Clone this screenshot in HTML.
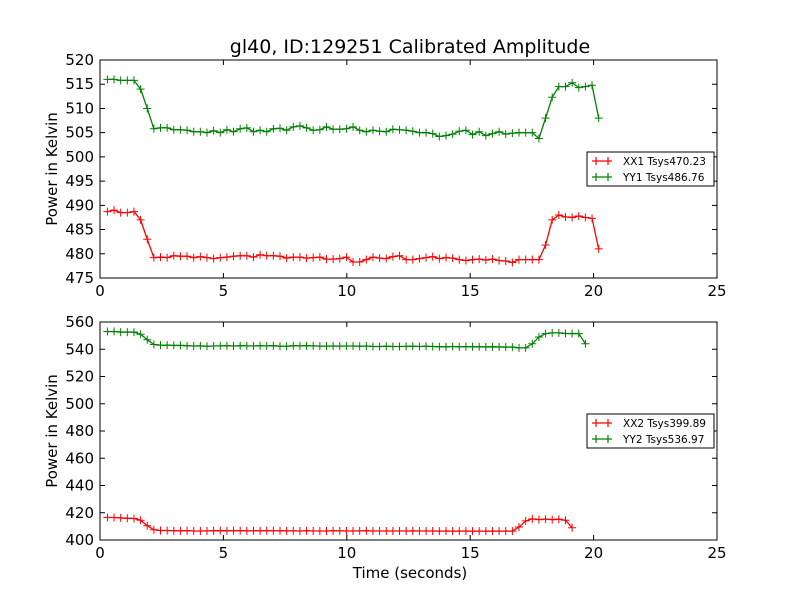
<!DOCTYPE html>
<html><head><meta charset="utf-8"><style>
body{margin:0;background:#fff;}
svg text{font-family:"DejaVu Sans","Liberation Sans",sans-serif;}
</style></head><body>
<svg id="c" width="800" height="600" xmlns="http://www.w3.org/2000/svg">
<rect width="800" height="600" fill="#fff"/>
</svg>
<script>
const xMin=0.3, xStep=0.269;
const yy1=[516,516,515.8,515.8,515.8,514,510,505.8,
506,506,505.6,505.6,505.5,505.2,505.2,505,505.4,505,
505.6,505.2,505.8,506,505.2,505.5,505.2,505.8,505.9,505.5,
506.2,506.4,506,505.5,505.6,506.2,505.7,505.7,505.8,506.2,
505.5,505.2,505.5,505.3,505.2,505.7,505.6,505.5,505.3,505,
505,504.8,504.2,504.4,504.7,505.3,505.5,504.6,505.2,504.4,
504.8,505.2,504.7,504.9,505,505,
505,503.8,508,512.3,514.5,514.5,515.3,514.3,514.5,514.8,508];
const xx1=[488.7,489,488.5,488.5,488.7,487,483,479.2,
479.3,479.2,479.6,479.5,479.5,479.2,479.4,479.2,479,479.2,
479.3,479.5,479.6,479.6,479.3,479.8,479.6,479.6,479.5,479.1,
479.3,479.3,479.1,479.2,479.3,478.9,478.9,479.0,479.3,478.3,
478.3,478.8,479.3,479.1,479.0,479.4,479.6,478.8,478.8,479.0,
479.2,479.4,479.0,479.2,479.1,478.8,478.6,478.8,478.9,478.7,
478.9,478.6,478.5,478.2,478.8,478.8,
478.8,478.8,481.8,487,488,487.6,487.5,487.8,487.5,487.3,481];
const yy2=[553,553,552.6,552.6,552.6,551,547,543.5,
543,543,542.8,542.8,542.6,542.4,542.5,542.2,542.4,542.5,
542.6,542.4,542.6,542.5,542.4,542.6,542.5,542.6,542.2,542.2,
542.6,542.5,542.6,542.5,542.3,542.3,542.4,542.3,542.4,542.4,
542.2,542.4,542.0,542.0,542.2,542.0,542.0,542.1,542.2,542.0,
542.2,542.0,541.8,541.8,542.0,541.8,541.9,541.8,541.8,541.7,
541.8,541.7,541.6,541.6,
541,541,544,549,551.5,552,552,551.6,551.5,551.5,544];
const xx2=[416.5,416.5,416.2,416,415.8,414.5,410.5,407.5,
407,407,406.8,406.8,406.9,406.6,406.6,406.7,406.8,406.9,
406.8,406.8,406.9,406.7,406.8,406.8,406.9,406.8,406.8,406.7,
406.7,406.6,406.8,406.6,406.6,406.6,406.8,406.7,406.6,406.6,
406.7,406.8,406.6,406.6,406.6,406.6,406.6,406.6,406.7,406.6,
406.6,406.6,406.5,406.6,406.5,406.5,406.6,406.5,
406.5,406.5,406.5,406.5,406.5,406.5,409.5,414,415.5,415,415.3,415,415.2,414.5,409];
const xTicks=[0,5,10,15,20,25];
const y1Ticks=[475,480,485,490,495,500,505,510,515,520];
const y2Ticks=[400,420,440,460,480,500,520,540,560];
const legend1=["XX1 Tsys470.23","YY1 Tsys486.76"];
const legend2=["XX2 Tsys399.89","YY2 Tsys536.97"];

const NS="http://www.w3.org/2000/svg";
const svg=document.getElementById('c');
function mk(t,a,p){const e=document.createElementNS(NS,t);for(const k in a)e.setAttribute(k,a[k]);(p||svg).appendChild(e);return e;}
const X0=100,X1=717;
function sx(v){return X0+(v-0)/(25-0)*(X1-X0);}
function panel(top,bot,ymin,ymax,yTicks,series,legend,legTop,idx,showXTitle){
  const sy=v=>bot-(v-ymin)/(ymax-ymin)*(bot-top);
  const g=mk('g',{});
  
  
  series.forEach((s,si)=>{
    const pts=s.d.map((v,i)=>[sx(xMin+xStep*i),sy(v)]);
    const pl=mk('polyline',{points:pts.map(p=>p.join(',')).join(' '),fill:'none',stroke:s.c,'stroke-width':1.3},g);
    
    
    pts.forEach(p=>{
      const m=mk('path',{d:`M${p[0]-4},${p[1]}h8M${p[0]},${p[1]-4}v8`,stroke:s.c,'stroke-width':1},g);
      
      
    });
  });
  const fr=mk('rect',{x:X0,y:top,width:X1-X0,height:bot-top,fill:'none',stroke:'#000','stroke-width':1},g);
  
  
  xTicks.forEach(t=>{
    const x=sx(t);
    mk('path',{d:`M${x},${bot}v-5M${x},${top}v5`,stroke:'#000'},g);
    const tx=mk('text',{x:x,y:bot+18,'font-size':15,'text-anchor':'middle'},g);
    tx.textContent=t;
    
    
  });
  yTicks.forEach(t=>{
    const y=sy(t);
    mk('path',{d:`M${X0},${y}h5M${X1},${y}h-5`,stroke:'#000'},g);
    const tx=mk('text',{x:X0-6,y:y+5,'font-size':15,'text-anchor':'end'},g);
    tx.textContent=t;
    
    
  });
  const yt=mk('text',{x:0,y:0,'font-size':15,'text-anchor':'middle',transform:`translate(57,${(top+bot)/2}) rotate(-90)`},g);
  yt.textContent='Power in Kelvin';
  
  
  const lg=mk('g',{},g);
  
  
  mk('rect',{x:587,y:legTop,width:127,height:34,fill:'#fff',stroke:'#000','stroke-width':1},lg);
  legend.forEach((l,i)=>{
    const y=legTop+9+i*16, c=series[i].c;
    mk('path',{d:`M592,${y}h20M596,${y-4}v8M608,${y-4}v8`,stroke:c,'stroke-width':1.2},lg);
    const tx=mk('text',{x:623,y:y+4,'font-size':10.5},lg);
    tx.textContent=l;
    
    
  });
}
panel(60,278,475,520,y1Ticks,[{d:xx1,c:'#ff0000',n:'xx1'},{d:yy1,c:'#008000',n:'yy1'}],legend1,152,1);
panel(322,540,400,560,y2Ticks,[{d:xx2,c:'#ff0000',n:'xx2'},{d:yy2,c:'#008000',n:'yy2'}],legend2,414,2);
const title=mk('text',{x:410,y:53,'font-size':19,'text-anchor':'middle'});
title.textContent='gl40, ID:129251 Calibrated Amplitude';


const xt=mk('text',{x:410,y:578,'font-size':15,'text-anchor':'middle'});
xt.textContent='Time (seconds)';


</script>
</body></html>
